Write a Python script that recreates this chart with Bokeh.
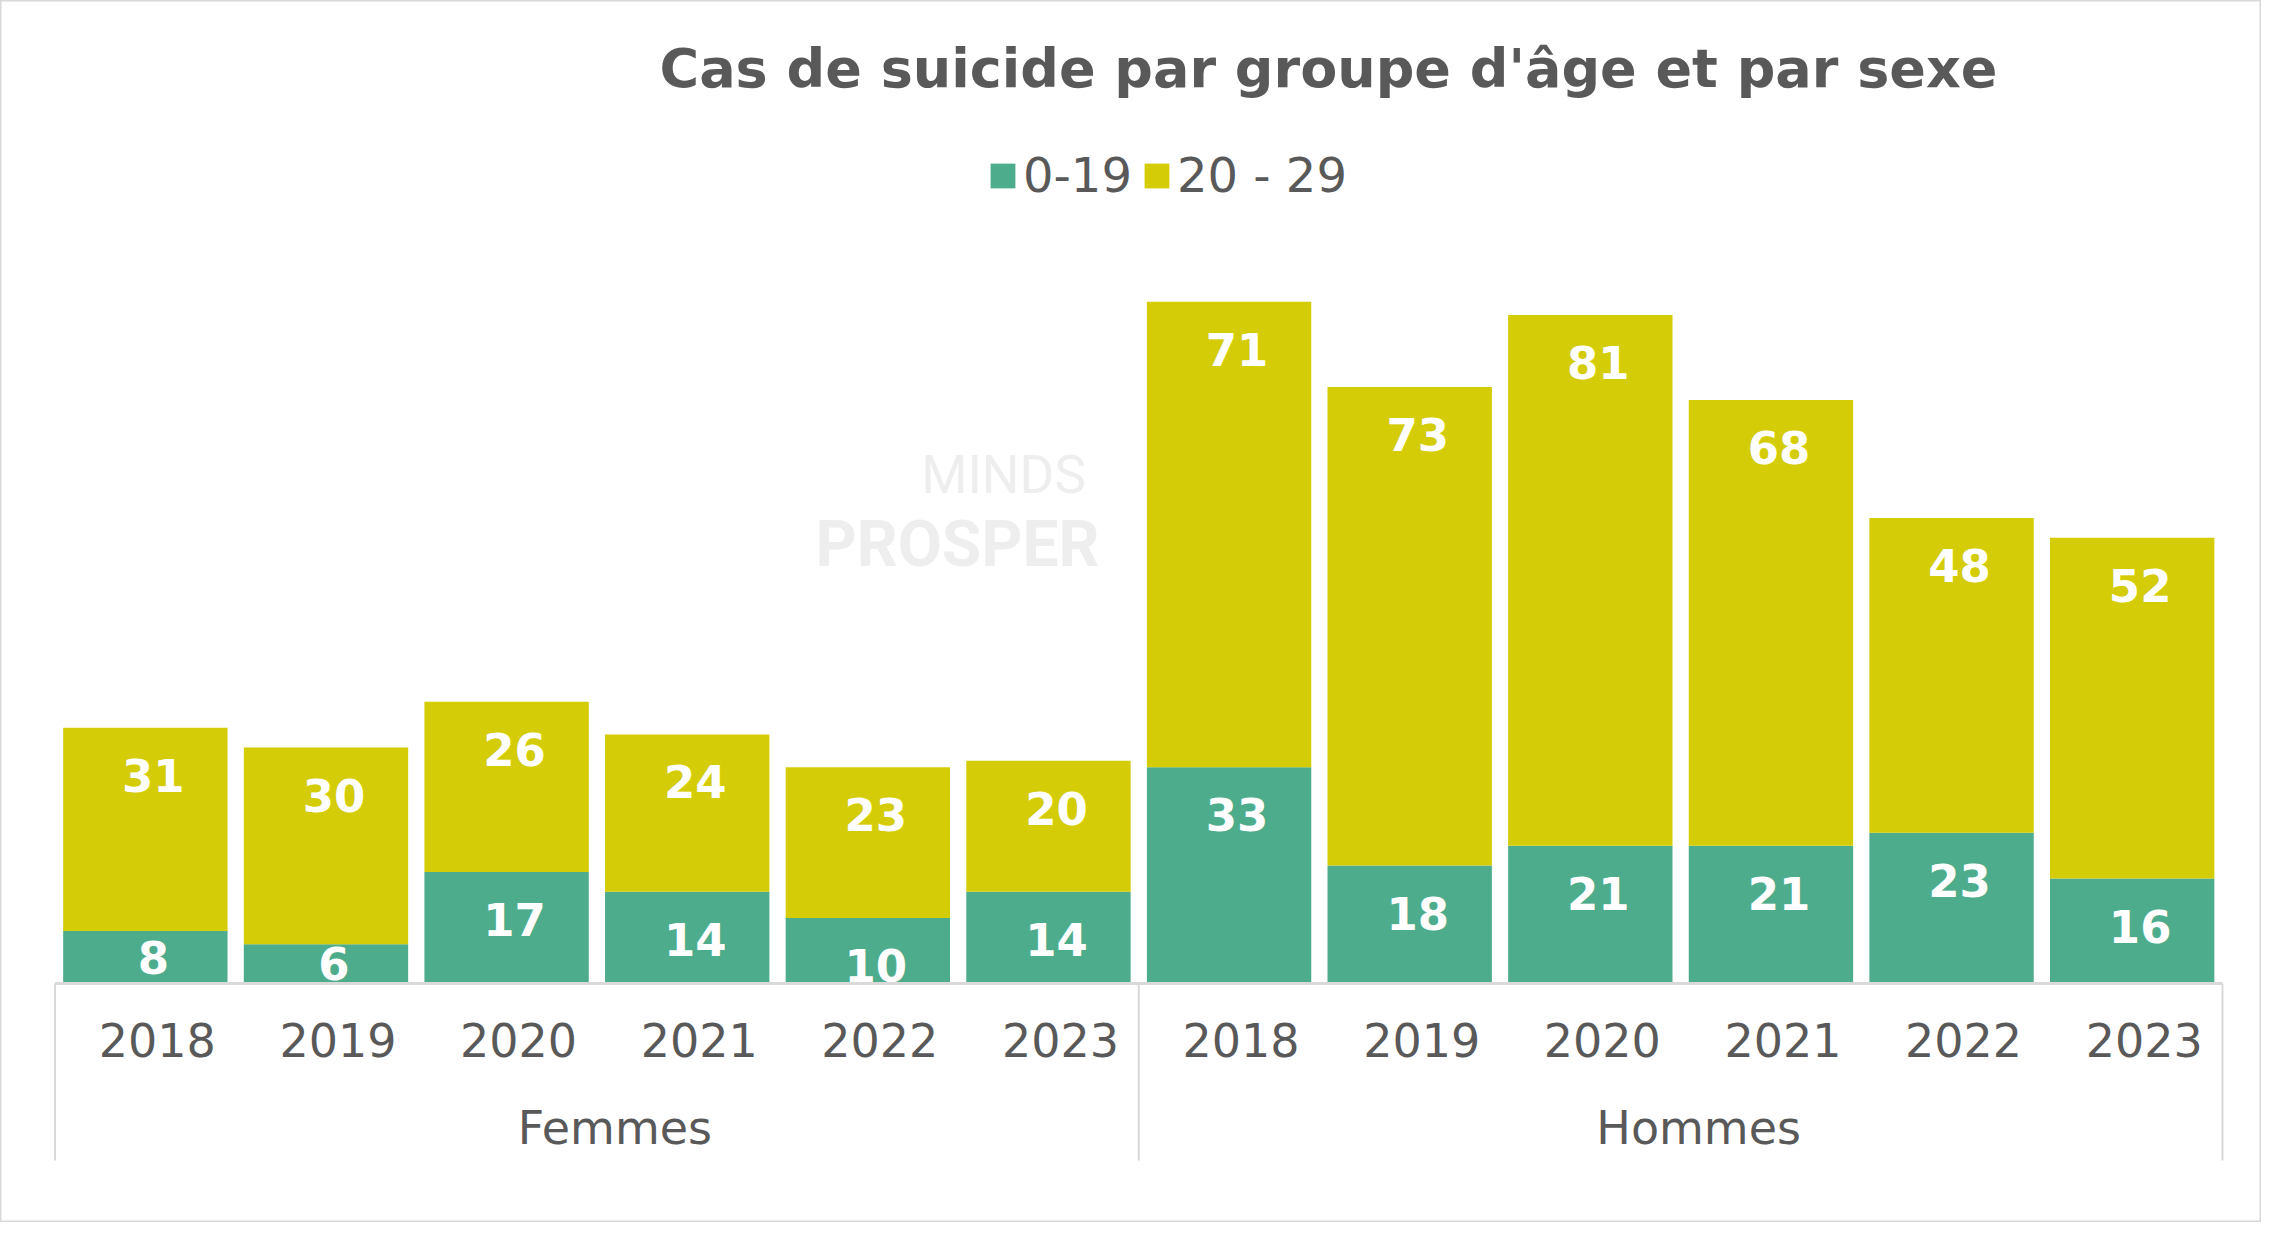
from bokeh.core.properties import value
from bokeh.embed import file_html
from bokeh.models import ColumnDataSource, Label, Range1d
from bokeh.plotting import figure
from bokeh.resources import INLINE

# data
genders = ["Femmes", "Hommes"]
years = ["2018", "2019", "2020", "2021", "2022", "2023"]
age_0_19 = [8, 6, 17, 14, 10, 14, 33, 18, 21, 21, 23, 16]
age_20_29 = [31, 30, 26, 24, 23, 20, 71, 73, 81, 68, 48, 52]
series_names = ["0-19", "20 - 29"]

GREEN = "#4DAC8C"
YELLOW = "#D4CC06"
GREY_TXT = "#595959"
GREY_LINE = "#D9D9D9"
FONT = "DejaVu Sans"

W, H = 2261, 1222
Y0, Y1 = -36.46, 149.96
px = H / (Y1 - Y0)  # pixels per case

n = len(genders) * len(years)
xs = [i + 0.5 for i in range(n)]          # category centres
tick_text = [y for g in genders for y in years]
group_x = [len(years) * (k + 0.5) for k in range(len(genders))]
bounds = [len(years) * k for k in range(len(genders) + 1)]

p = figure(
    width=W, height=H,
    x_range=Range1d(-0.302, n + 0.216),
    y_range=Range1d(Y0, Y1),
    output_backend="svg", toolbar_location=None,
    x_axis_location=None, y_axis_location=None,
    min_border=0,
)
p.xgrid.visible = False
p.ygrid.visible = False
p.outline_line_color = GREY_LINE
p.outline_line_width = 2

# watermark
p.add_layout(Label(x=1003, y=H - 474, x_units="screen", y_units="screen",
                   text="MINDS", text_align="center", text_baseline="middle",
                   text_font="Roboto", text_font_size="53px",
                   text_color="#EEEEEE"))
p.add_layout(Label(x=957, y=H - 544, x_units="screen", y_units="screen",
                   text="PROSPER", text_align="center", text_baseline="middle",
                   text_font="Roboto", text_font_style="bold",
                   text_font_size="64px", text_color="#EEEEEE"))

src = ColumnDataSource(dict(x=xs, a=age_0_19, b=age_20_29))
p.vbar_stack(["a", "b"], x="x", width=0.91, source=src,
             color=[GREEN, YELLOW], line_color=None,
             legend_label=series_names)


# value labels: "inside end", centred when the segment is too small
def label_pos(bottoms, vals):
    ys = []
    for b, v in zip(bottoms, vals):
        h = v * px
        off = 47.5 if h >= 65 else h / 2
        ys.append(b + v - off / px)
    return ys


p.text(x=xs + xs,
       y=label_pos([0] * n, age_0_19) + label_pos(age_0_19, age_20_29),
       text=[str(v) for v in age_0_19 + age_20_29], x_offset=8,
       text_align="center", text_baseline="middle",
       text_font=value(FONT), text_font_style="bold",
       text_font_size="45px", text_color="white")

# category axis drawn Excel-style
p.segment(x0=[bounds[0]], y0=[0], x1=[bounds[-1]], y1=[0],
          line_color=GREY_LINE, line_width=3)
p.segment(x0=bounds, y0=[0] * len(bounds), x1=bounds,
          y1=[-177 / px] * len(bounds), line_color=GREY_LINE, line_width=2)

p.text(x=xs, y=[-56 / px] * n, text=tick_text,
       x_offset=12, text_align="center", text_baseline="middle",
       text_font=value(FONT), text_font_size="46px", text_color=GREY_TXT)
p.text(x=group_x, y=[-144.5 / px] * len(genders), text=genders,
       x_offset=18, text_align="center", text_baseline="middle",
       text_font=value(FONT), text_font_size="46px", text_color=GREY_TXT)

# title
p.add_layout(Label(x=1328, y=H - 68, x_units="screen", y_units="screen",
                   text="Cas de suicide par groupe d'âge et par sexe",
                   text_align="center", text_baseline="alphabetic",
                   text_font=FONT, text_font_style="bold",
                   text_font_size="54px", text_color=GREY_TXT))

leg = p.legend[0]
leg.location = (987, H - 203)
leg.orientation = "horizontal"
leg.glyph_width = 31
leg.glyph_height = 31
leg.label_height = 52
leg.label_standoff = 5
leg.spacing = 9
leg.padding = 0
leg.margin = 0
leg.border_line_color = None
leg.background_fill_alpha = 0
leg.label_text_font = FONT
leg.label_text_font_size = "48px"
leg.label_text_color = GREY_TXT

open("out.html", "w").write(file_html(p, INLINE))
